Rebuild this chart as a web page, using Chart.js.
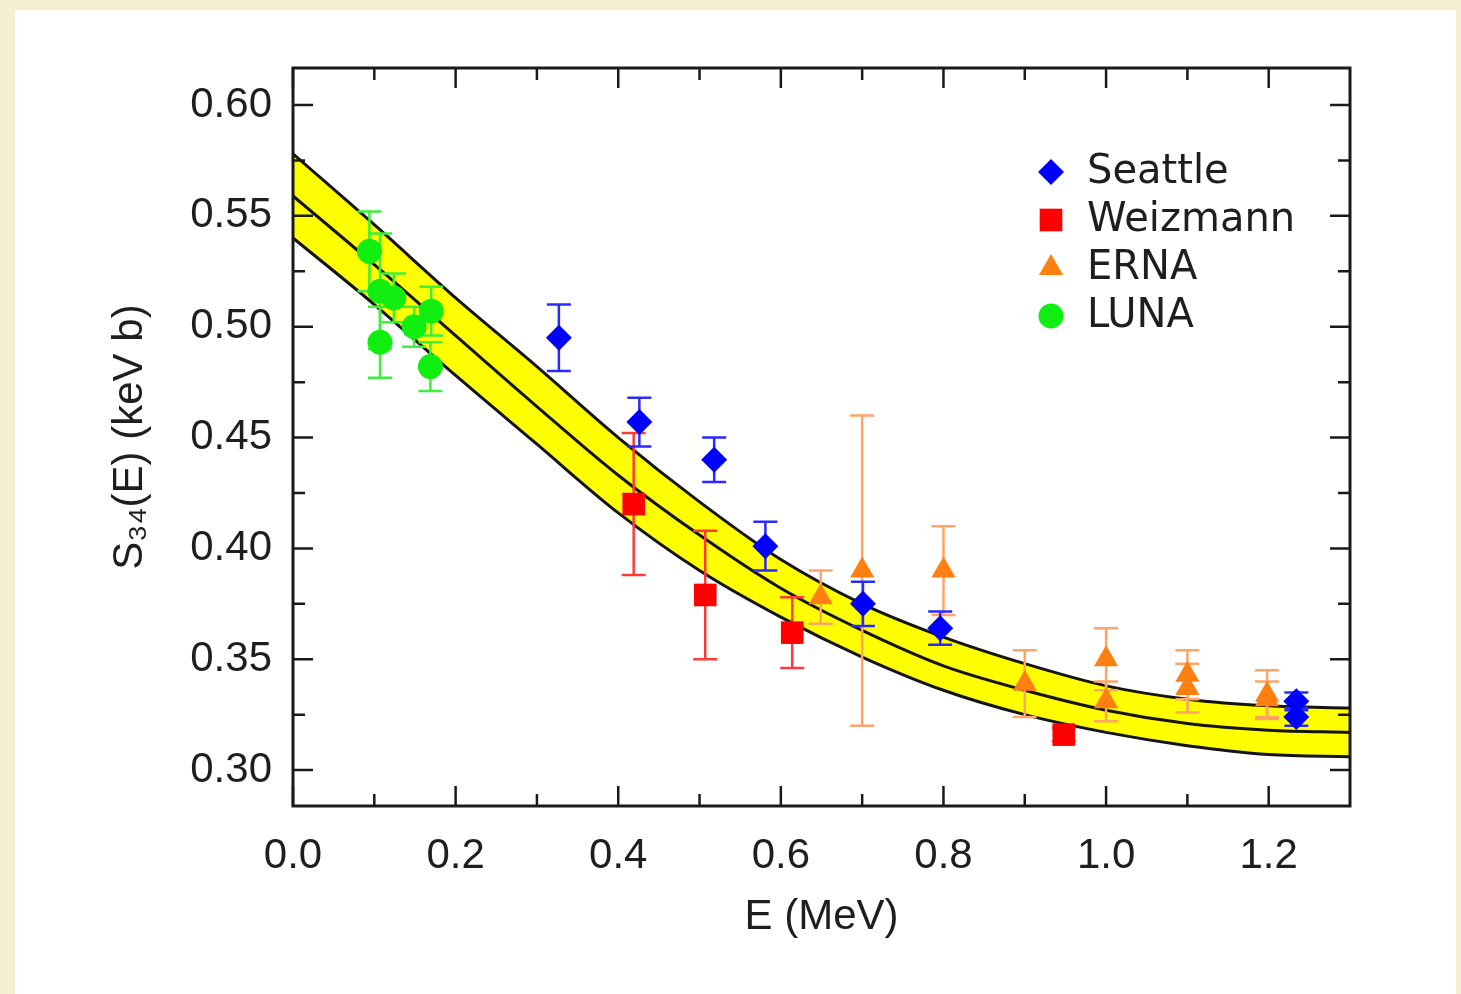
<!DOCTYPE html>
<html>
<head>
<meta charset="utf-8">
<script src="https://cdn.jsdelivr.net/npm/chart.js@4.4.1/dist/chart.umd.min.js"></script>
<style>
  html, body { margin: 0; padding: 0; }
  body { width: 1461px; height: 994px; background: #f6efd3; position: relative; overflow: hidden; }
  #panel { position: absolute; left: 15px; top: 10px; width: 1441px; height: 984px; background: #fff; }
  #s34Chart { position: absolute; left: 0; top: 0; }
</style>
</head>
<body>
<div id="panel"></div>
<canvas id="s34Chart" width="1461" height="994"></canvas>
<script>
// fit curve and its uncertainty band
var bandE      = [0, 0.1, 0.2, 0.3, 0.4, 0.5, 0.6, 0.7, 0.8, 0.9, 1.0, 1.1, 1.2, 1.3];
var bandUpper  = [0.578, 0.546, 0.513, 0.482, 0.450, 0.421, 0.395, 0.375, 0.360, 0.348, 0.338, 0.332, 0.329, 0.328];
var bandCenter = [0.559, 0.528, 0.496, 0.464, 0.433, 0.406, 0.382, 0.363, 0.347, 0.336, 0.327, 0.321, 0.318, 0.317];
var bandLower  = [0.540, 0.510, 0.478, 0.447, 0.416, 0.390, 0.369, 0.351, 0.336, 0.325, 0.317, 0.311, 0.307, 0.306];

// measurements: energy (MeV), S34 (keV b), error
var seattleE   = [0.327, 0.426, 0.518, 0.581, 0.701, 0.796, 1.234, 1.234];
var seattleS   = [0.495, 0.457, 0.440, 0.401, 0.375, 0.364, 0.331, 0.324];
var seattleErr = [0.015, 0.011, 0.010, 0.011, 0.010, 0.0075, 0.004, 0.004];

var weizmannE   = [0.419, 0.507, 0.614, 0.948];
var weizmannS   = [0.420, 0.379, 0.362, 0.316];
var weizmannErr = [0.032, 0.029, 0.016, 0.003];

var ernaE   = [0.649, 0.700, 0.800, 0.900, 1.000, 1.000, 1.100, 1.100, 1.198, 1.198];
var ernaS   = [0.378, 0.390, 0.390, 0.339, 0.350, 0.331, 0.343, 0.337, 0.334, 0.332];
var ernaErr = [0.012, 0.070, 0.020, 0.015, 0.014, 0.009, 0.011, 0.011, 0.011, 0.008];

var lunaE   = [0.094, 0.107, 0.124, 0.107, 0.149, 0.170, 0.169];
var lunaS   = [0.534, 0.516, 0.513, 0.493, 0.500, 0.507, 0.482];
var lunaErr = [0.018, 0.026, 0.011, 0.016, 0.009, 0.011, 0.011];

// axis ticks
var xMajorTicks = [0, 0.2, 0.4, 0.6, 0.8, 1.0, 1.2];
var xMinorTicks = [0.1, 0.3, 0.5, 0.7, 0.9, 1.1];
var yMajorTicks = [0.30, 0.35, 0.40, 0.45, 0.50, 0.55, 0.60];
var yMinorTicks = [0.325, 0.375, 0.425, 0.475, 0.525, 0.575];

function toPoints(xs, ys) {
    return xs.map(function (x, i) { return { x: x, y: ys[i] }; });
}

var labelFont = "'Liberation Sans', Arial, sans-serif";

// error bars are drawn just before each dataset's markers
var errorBars = {
    id: "errorBars",
    beforeDatasetDraw: function (chart, args) {
        var ds = chart.data.datasets[args.index];
        if (!ds.err) return;
        var xs = chart.scales.x, ys = chart.scales.y, ctx = chart.ctx;
        ctx.save();
        ctx.strokeStyle = ds.errColor;
        ctx.lineWidth = 2.5;
        ds.data.forEach(function (p, i) {
            var px = xs.getPixelForValue(p.x);
            var top = ys.getPixelForValue(p.y + ds.err[i]);
            var bot = ys.getPixelForValue(p.y - ds.err[i]);
            ctx.beginPath();
            ctx.moveTo(px, top); ctx.lineTo(px, bot);
            ctx.moveTo(px - 12, top); ctx.lineTo(px + 12, top);
            ctx.moveTo(px - 12, bot); ctx.lineTo(px + 12, bot);
            ctx.stroke();
        });
        ctx.restore();
    }
};

// box frame with inward ticks on all four sides
var frameTicks = {
    id: "frameTicks",
    afterDatasetsDraw: function (chart) {
        var a = chart.chartArea, xs = chart.scales.x, ys = chart.scales.y, ctx = chart.ctx;
        ctx.save();
        ctx.strokeStyle = "#1a1a1a";
        ctx.lineWidth = 2.5;
        ctx.beginPath();
        function xt(vals, len) {
            vals.forEach(function (v) {
                var px = xs.getPixelForValue(v);
                ctx.moveTo(px, a.bottom); ctx.lineTo(px, a.bottom - len);
                ctx.moveTo(px, a.top); ctx.lineTo(px, a.top + len);
            });
        }
        function yt(vals, len) {
            vals.forEach(function (v) {
                var py = ys.getPixelForValue(v);
                ctx.moveTo(a.left, py); ctx.lineTo(a.left + len, py);
                ctx.moveTo(a.right, py); ctx.lineTo(a.right - len, py);
            });
        }
        xt(xMajorTicks, 20); xt(xMinorTicks, 12);
        yt(yMajorTicks, 20); yt(yMinorTicks, 12);
        ctx.stroke();
        ctx.lineWidth = 3;
        ctx.strokeRect(a.left, a.top, a.right - a.left, a.bottom - a.top);
        ctx.restore();
    }
};

// legend inside the plot, top right
var boxLegend = {
    id: "boxLegend",
    afterDraw: function (chart) {
        var ctx = chart.ctx;
        var items = chart.data.datasets.filter(function (d) { return d.legendLabel; });
        ctx.save();
        ctx.font = "40px 'DejaVu Sans', sans-serif";
        ctx.textBaseline = "middle";
        items.forEach(function (d, i) {
            var y = 172 + i * 48;
            ctx.fillStyle = d.backgroundColor;
            ctx.strokeStyle = d.backgroundColor;
            Chart.helpers.drawPoint(ctx, { pointStyle: d.pointStyle, radius: d.pointRadius, rotation: 0, borderWidth: 0 }, 1051, y);
            ctx.fillStyle = "#1e1e1e";
            ctx.fillText(d.legendLabel, 1087, y + 1);
        });
        ctx.restore();
    }
};

function markerSet(label, xs, ys, errs, color, errColor, style, radius) {
    return {
        label: label,
        legendLabel: label,
        data: toPoints(xs, ys),
        err: errs,
        errColor: errColor,
        showLine: false,
        pointStyle: style,
        pointRadius: radius,
        pointBorderWidth: 0,
        backgroundColor: color,
        borderColor: color,
        order: 1
    };
}

function bandLine(label, ys, fill) {
    return {
        label: label,
        data: toPoints(bandE, ys),
        showLine: true,
        fill: fill,
        backgroundColor: "#ffff00",
        borderColor: "#141414",
        borderWidth: 3,
        pointRadius: 0,
        cubicInterpolationMode: "monotone",
        order: 2
    };
}

var ctx = document.getElementById("s34Chart").getContext("2d");

var myChart = new Chart(ctx, {
    type: "scatter",
    data: {
        datasets: [
            markerSet("Seattle", seattleE, seattleS, seattleErr, "#0000ff", "#2a2aff", "rectRot", 13),
            markerSet("Weizmann", weizmannE, weizmannS, weizmannErr, "#ff0000", "#ff3a3a", "rect", 16),
            markerSet("ERNA", ernaE, ernaS, ernaErr, "#ff8010", "#ffa466", "triangle", 14),
            markerSet("LUNA", lunaE, lunaS, lunaErr, "#10ee10", "#3cf03c", "circle", 12.5),
            bandLine("upper", bandUpper, "+1"),
            bandLine("lower", bandLower, false),
            bandLine("center", bandCenter, false)
        ]
    },
    options: {
        responsive: false,
        animation: false,
        devicePixelRatio: 1,
        layout: { padding: { top: 68, right: 111, left: 0, bottom: 0 } },
        plugins: {
            legend: { display: false },
            tooltip: { enabled: false },
            filler: { drawTime: "beforeDatasetsDraw" }
        },
        scales: {
            x: {
                type: "linear",
                min: 0,
                max: 1.3,
                grid: { display: false, drawTicks: false },
                border: { display: false },
                ticks: {
                    stepSize: 0.2,
                    includeBounds: false,
                    padding: 25,
                    color: "#1e1e1e",
                    font: { family: labelFont, size: 42 },
                    callback: function (v) { return Number(v).toFixed(1); }
                },
                title: {
                    display: true,
                    text: "E (MeV)",
                    color: "#1e1e1e",
                    font: { family: labelFont, size: 42 },
                    padding: { top: 0, bottom: 51 }
                },
                afterFit: function (scale) { scale.height = 188; }
            },
            y: {
                type: "linear",
                min: 0.2838,
                max: 0.6167,
                grid: { display: false, drawTicks: false },
                border: { display: false },
                ticks: {
                    stepSize: 0.05,
                    includeBounds: false,
                    padding: 21,
                    color: "#1e1e1e",
                    font: { family: labelFont, size: 42 },
                    callback: function (v) { return Number(v).toFixed(2); }
                },
                title: {
                    display: true,
                    text: "S\u2083\u2084(E) (keV b)",
                    color: "#1e1e1e",
                    font: { family: labelFont, size: 42 },
                    padding: { top: 105, bottom: 0 }
                },
                afterFit: function (scale) { scale.width = 293; }
            }
        }
    },
    plugins: [errorBars, frameTicks, boxLegend]
});
</script>
</body>
</html>
